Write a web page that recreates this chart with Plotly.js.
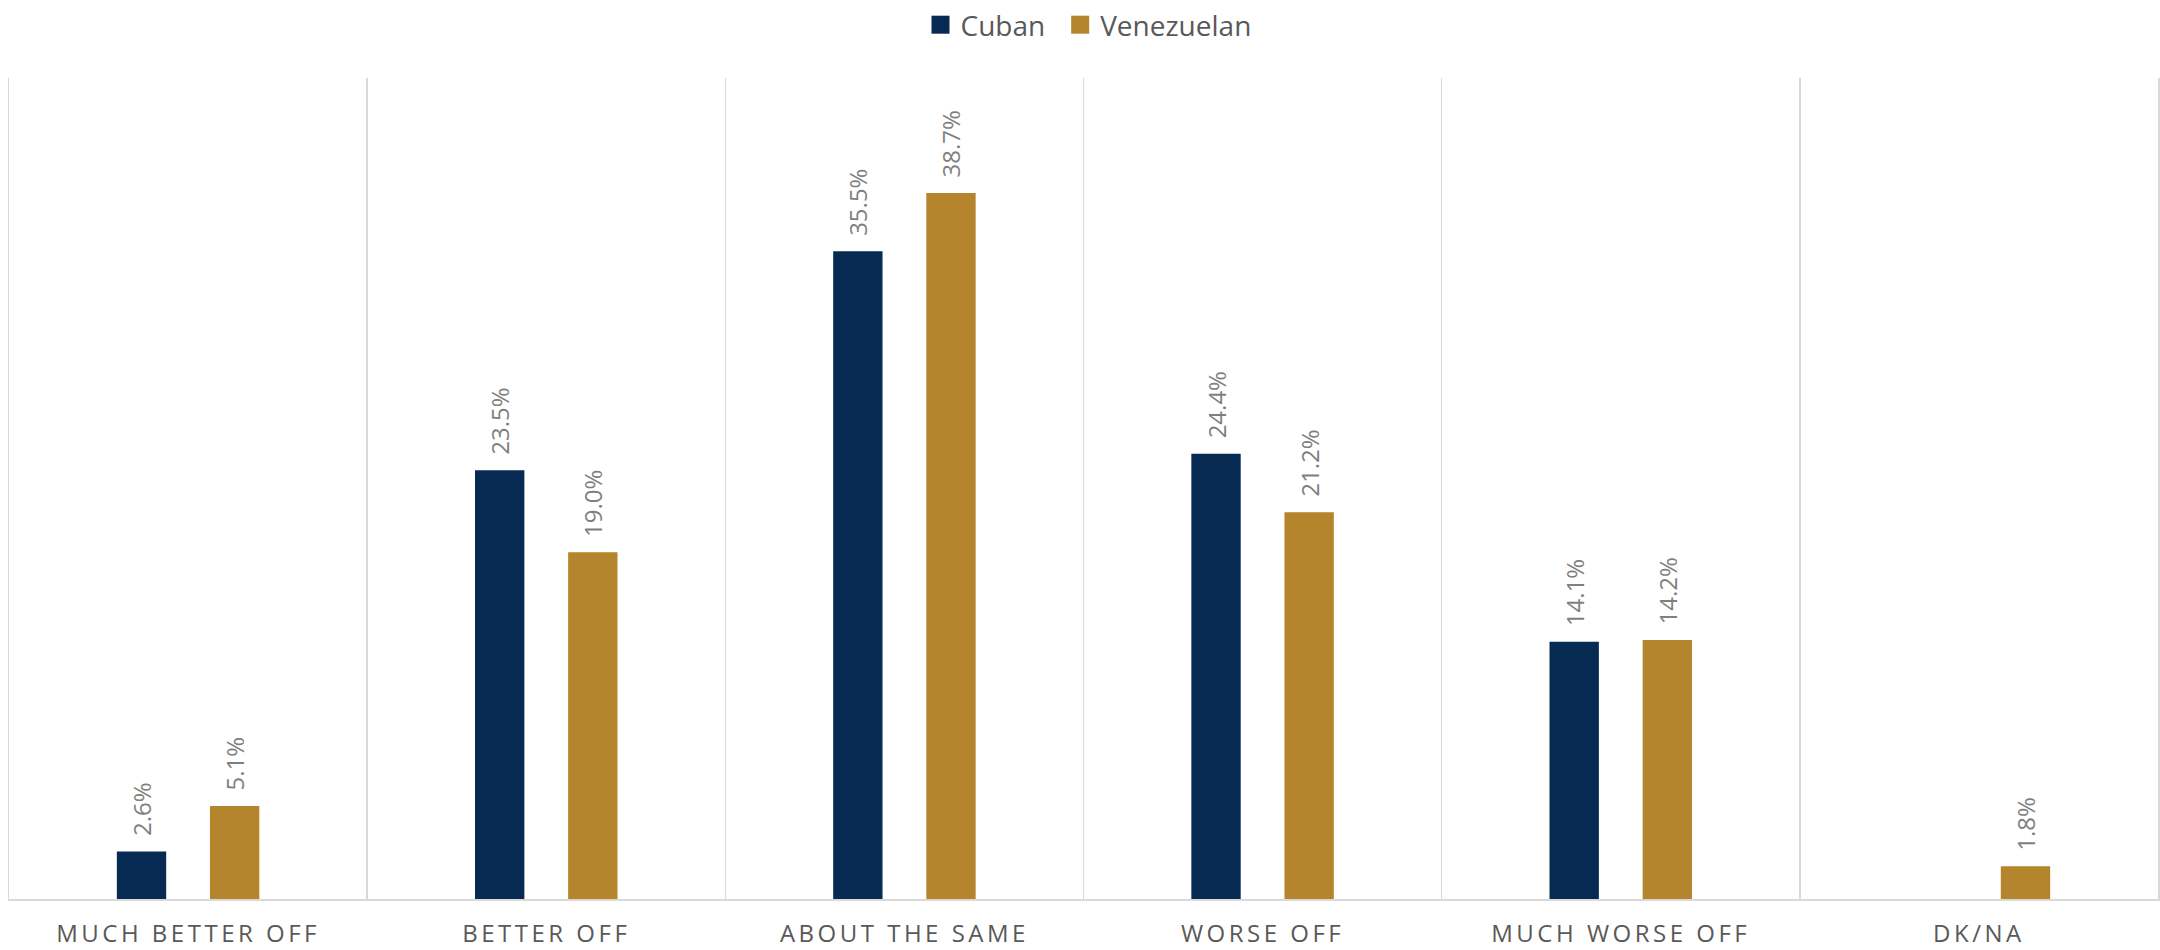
<!DOCTYPE html>
<html>
<head>
<meta charset="utf-8">
<script src="https://cdn.plot.ly/plotly-3.0.1.min.js"></script>
<style>
  html, body { margin: 0; padding: 0; background: #ffffff; }
  #chart { width: 2160px; height: 950px; }
  .xtick text { letter-spacing: 3.5px; }
</style>
</head>
<body>
<div id="chart"></div>
<script>
const categories = ["MUCH BETTER OFF", "BETTER OFF", "ABOUT THE SAME", "WORSE OFF", "MUCH WORSE OFF", "DK/NA"];
const cubanValues = [2.6, 23.5, 35.5, 24.4, 14.1, null];
const venezuelanValues = [5.1, 19.0, 38.7, 21.2, 14.2, 1.8];
const seriesNames = ["Cuban", "Venezuelan"];
const seriesColors = ["#062a51", "#b5852e"];

const labelFont = { family: "Open Sans, sans-serif", size: 24, color: "#7f7f7f" };

function makeTrace(name, values, color) {
  return {
    type: "bar",
    name: name,
    x: categories,
    y: values,
    marker: { color: color },
    texttemplate: "\u00a0\u00a0%{y:.1f}%",
    textposition: "outside",
    textangle: -90,
    constraintext: "none",
    cliponaxis: false,
    textfont: labelFont,
    hoverinfo: "x+y+name"
  };
}

const data = [
  makeTrace(seriesNames[0], cubanValues, seriesColors[0]),
  makeTrace(seriesNames[1], venezuelanValues, seriesColors[1])
];

const layout = {
  width: 2160,
  height: 950,
  margin: { l: 9, r: 2, t: 78, b: 51 },
  paper_bgcolor: "#ffffff",
  plot_bgcolor: "#ffffff",
  font: { family: "Open Sans, sans-serif", color: "#595959" },
  barmode: "group",
  bargap: 0.48,
  bargroupgap: 0.47,
  showlegend: true,
  legend: {
    orientation: "h",
    x: 0.5,
    xanchor: "center",
    yref: "container",
    y: 1,
    yanchor: "top",
    font: { family: "Open Sans, sans-serif", size: 28, color: "#595959" },
    bgcolor: "rgba(0,0,0,0)"
  },
  xaxis: {
    type: "category",
    tickson: "boundaries",
    showgrid: true,
    gridcolor: "#d9d9d9",
    gridwidth: 1.5,
    showline: true,
    linecolor: "#d9d9d9",
    linewidth: 2,
    ticks: "",
    ticklabelstandoff: 12,
    automargin: false,
    tickfont: { family: "Open Sans, sans-serif", size: 24, color: "#595959" },
    fixedrange: true
  },
  yaxis: {
    range: [0, 45],
    showgrid: false,
    zeroline: false,
    showticklabels: false,
    showline: true,
    mirror: true,
    linecolor: "#d9d9d9",
    linewidth: 1.5,
    ticks: "",
    automargin: false,
    fixedrange: true
  }
};

Plotly.newPlot("chart", data, layout, { displayModeBar: false, staticPlot: true }).then(function (gd) {
  // enlarge legend swatches to match the reference
  gd.querySelectorAll(".legendpoints path").forEach(function (p) {
    p.setAttribute("d", "M9,9H-9V-9H9Z");
  });
  // widen the gap between the two legend entries slightly
  const items = gd.querySelectorAll(".legend .traces");
  if (items.length > 1) {
    const t = items[1].getAttribute("transform") || "";
    const m = t.match(/translate\(\s*([-\d.]+)[ ,]+([-\d.]+)\s*\)/);
    if (m) {
      items[1].setAttribute("transform", "translate(" + (parseFloat(m[1]) + 10) + "," + m[2] + ")");
    }
  }
  gd.querySelectorAll(".legend .scrollbox").forEach(function (s) { s.removeAttribute("clip-path"); });
});
</script>
</body>
</html>
